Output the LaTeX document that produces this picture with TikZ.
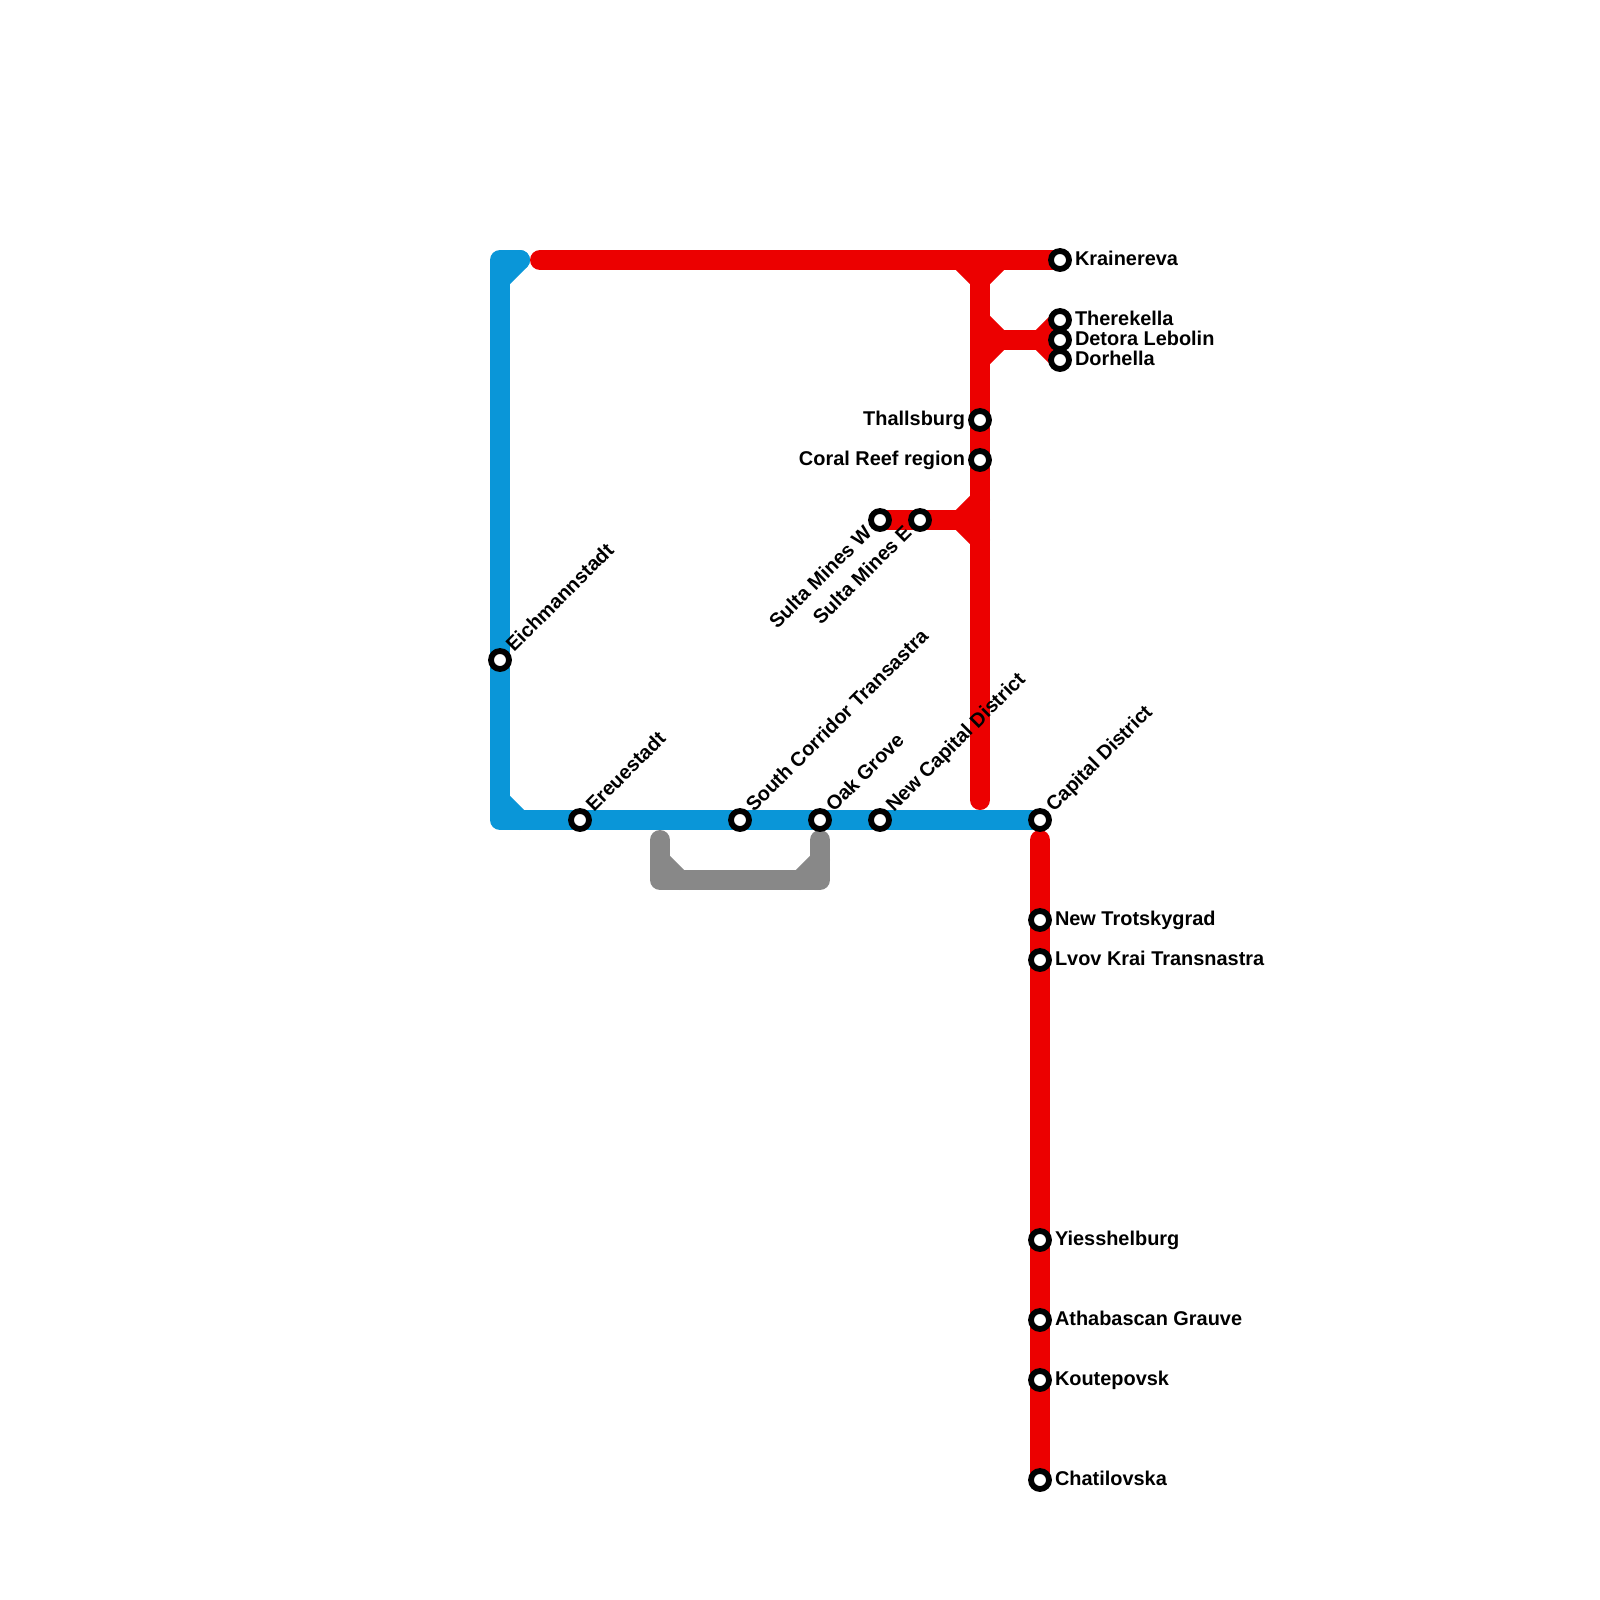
\documentclass[tikz,border=0pt]{standalone}
\usepackage{fontspec}
\setmainfont{Liberation Sans}
\usetikzlibrary{backgrounds}
\definecolor{lineblue}{RGB}{10,150,216}
\definecolor{linered}{RGB}{236,0,0}
\definecolor{linegray}{RGB}{136,136,136}
\begin{document}
\begin{tikzpicture}[x=0.5cm, y=-0.5cm,
    stop/.style={circle, draw=black, fill=white, line width=0.145cm, inner sep=0pt, minimum size=0.45cm},
    route/.style={line width=0.5cm, line cap=round, line join=round},
    lbl/.style={font=\fontsize{14.17}{14.17}\selectfont\bfseries, inner sep=0pt, outer sep=0pt},
    rightlbl/.style={lbl, xshift=0.375cm, yshift=-0.135cm, anchor=base west},
    leftlbl/.style={lbl, xshift=-0.375cm, yshift=-0.135cm, anchor=base east},
    uplbl/.style={lbl, xshift=0.35cm, yshift=0.18cm, rotate=45, anchor=base west},
    downlbl/.style={lbl, xshift=-0.18cm, yshift=-0.35cm, rotate=45, anchor=base east}]

\useasboundingbox (0,0) rectangle (80,80);

\node [stop] at (25,33) (eichmannstadt) {};
\node [stop] at (29,41) (ereuestadt) {};
\node [stop] at (37,41) (southcorridor) {};
\node [stop] at (41,41) (oakgrove) {};
\node [stop] at (44,41) (newcapital) {};
\node [stop] at (52,41) (capital) {};
\node [stop] at (53,13) (krainereva) {};
\node [stop] at (53,16) (therekella) {};
\node [stop] at (53,17) (detora) {};
\node [stop] at (53,18) (dorhella) {};
\node [stop] at (49,21) (thallsburg) {};
\node [stop] at (49,23) (coralreef) {};
\node [stop] at (44,26) (sultaw) {};
\node [stop] at (46,26) (sultae) {};
\node [stop] at (52,46) (trotskygrad) {};
\node [stop] at (52,48) (lvovkrai) {};
\node [stop] at (52,62) (yiesshelburg) {};
\node [stop] at (52,66) (athabascan) {};
\node [stop] at (52,69) (koutepovsk) {};
\node [stop] at (52,74) (chatilovska) {};

\node [uplbl] at (eichmannstadt) (eichmannstadtlbl) {Eichmannstadt};
\node [uplbl] at (ereuestadt) (ereuestadtlbl) {Ereuestadt};
\node [uplbl] at (southcorridor) (southcorridorlbl) {South Corridor Transastra};
\node [uplbl] at (oakgrove) (oakgrovelbl) {Oak Grove};
\node [uplbl] at (newcapital) (newcapitallbl) {New Capital District};
\node [uplbl] at (capital) (capitallbl) {Capital District};
\node [rightlbl] at (krainereva) (krainerevalbl) {Krainereva};
\node [rightlbl] at (therekella) (therekellalbl) {Therekella};
\node [rightlbl] at (detora) (detoralbl) {Detora Lebolin};
\node [rightlbl] at (dorhella) (dorhellalbl) {Dorhella};
\node [leftlbl] at (thallsburg) (thallsburglbl) {Thallsburg};
\node [leftlbl] at (coralreef) (coralreeflbl) {Coral Reef region};
\node [downlbl] at (sultaw) (sultawlbl) {Sulta Mines W};
\node [downlbl] at (sultae) (sultaelbl) {Sulta Mines E};
\node [rightlbl] at (trotskygrad) (trotskygradlbl) {New Trotskygrad};
\node [rightlbl] at (lvovkrai) (lvovkrailbl) {Lvov Krai Transnastra};
\node [rightlbl] at (yiesshelburg) (yiesshelburglbl) {Yiesshelburg};
\node [rightlbl] at (athabascan) (athabascanlbl) {Athabascan Grauve};
\node [rightlbl] at (koutepovsk) (koutepovsklbl) {Koutepovsk};
\node [rightlbl] at (chatilovska) (chatilovskalbl) {Chatilovska};

\coordinate (bluestub) at (26,13);
\coordinate (bluetop) at (25,13);
\coordinate (bluebend) at (25,14);
\coordinate (bluelow) at (25,40);
\coordinate (bluefoot) at (25,41);
\coordinate (bluerun) at (26,41);

\coordinate (redstart) at (27,13);
\coordinate (forkleft) at (48,13);
\coordinate (forkright) at (50,13);
\coordinate (forkmid) at (49,13);
\coordinate (forkdown) at (49,14);
\coordinate (branchup) at (49,16);
\coordinate (branchdown) at (49,18);
\coordinate (branchin) at (50,17);
\coordinate (branchout) at (52,17);
\coordinate (sultaup) at (49,25);
\coordinate (sultadown) at (49,27);
\coordinate (sultain) at (48,26);
\coordinate (sultaend) at (49,26);
\coordinate (redbottom) at (49,40);
\coordinate (lowertop) at (52,42);

\coordinate (grayleft) at (33,42);
\coordinate (graylefta) at (33,43);
\coordinate (grayleftb) at (33,44);
\coordinate (grayleftc) at (34,44);
\coordinate (grayrightc) at (40,44);
\coordinate (grayrightb) at (41,44);
\coordinate (grayrighta) at (41,43);
\coordinate (grayright) at (41,42);

\begin{scope}[on background layer]
\draw [route, draw=lineblue] (bluestub) -- (bluetop) -- (eichmannstadt.center) -- (bluefoot) -- (ereuestadt.center) -- (southcorridor.center) -- (oakgrove.center) -- (newcapital.center) -- (capital.center);
\draw [route, draw=lineblue] (bluestub) -- (bluebend);
\draw [route, draw=lineblue] (bluelow) -- (bluerun);

\draw [route, draw=linered] (redstart) -- (krainereva.center);
\draw [route, draw=linered] (forkmid) -- (thallsburg.center) -- (coralreef.center) -- (redbottom);
\draw [route, draw=linered] (forkleft) -- (forkdown) -- (forkright);
\draw [route, draw=linered] (branchup) -- (branchin) -- (branchdown);
\draw [route, draw=linered] (branchin) -- (detora.center);
\draw [route, draw=linered] (therekella.center) -- (branchout) -- (dorhella.center);
\draw [route, draw=linered] (sultaw.center) -- (sultae.center) -- (sultaend);
\draw [route, draw=linered] (sultaup) -- (sultain) -- (sultadown);
\draw [route, draw=linered] (lowertop) -- (trotskygrad.center) -- (lvovkrai.center) -- (yiesshelburg.center) -- (athabascan.center) -- (koutepovsk.center) -- (chatilovska.center);

\draw [route, draw=linegray] (grayleft) -- (grayleftb) -- (grayrightb) -- (grayright);
\draw [route, draw=linegray] (graylefta) -- (grayleftc);
\draw [route, draw=linegray] (grayrighta) -- (grayrightc);
\end{scope}

\end{tikzpicture}
\end{document}
